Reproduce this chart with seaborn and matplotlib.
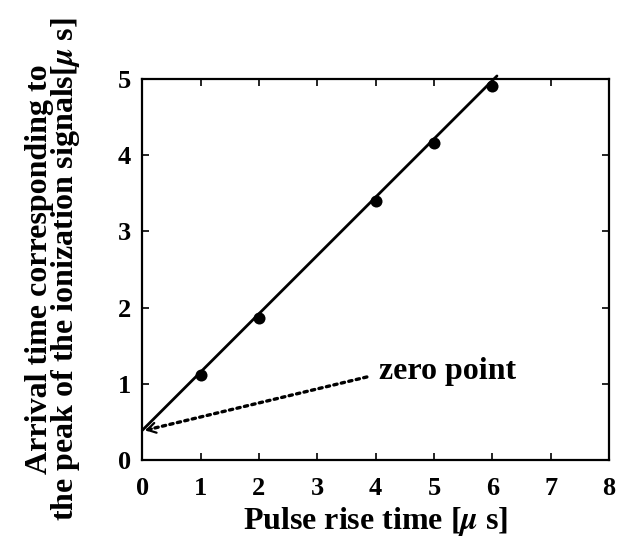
import matplotlib
matplotlib.use("Agg")
import matplotlib.pyplot as plt
import seaborn as sns
import pandas as pd

# Data
rise_time = [1, 2, 4, 5, 6]
arrival_time = [1.12, 1.87, 3.40, 4.16, 4.91]
fit_x = [0.0, 6.08]
fit_y = [0.39, 5.04]
zero_point = (0.05, 0.39)
arrow_start = (3.85, 1.09)
x_ticks = [0, 1, 2, 3, 4, 5, 6, 7, 8]
y_ticks = [0, 1, 2, 3, 4, 5]

sns.set_theme(style="ticks")
plt.rcParams['font.family'] = ['Liberation Serif', 'DejaVu Serif']
plt.rcParams['font.weight'] = 'bold'
plt.rcParams['mathtext.fontset'] = 'stix'
plt.rcParams['text.color'] = 'black'
plt.rcParams['axes.labelcolor'] = 'black'

fig = plt.figure(figsize=(6.17, 5.40), dpi=100)
ax = fig.add_axes([0.2306, 0.1481, 0.7564, 0.7056])

pts = pd.DataFrame({"x": rise_time, "y": arrival_time})
fit = pd.DataFrame({"x": fit_x, "y": fit_y})

sns.lineplot(data=fit, x="x", y="y", ax=ax, color="black", linewidth=2.0)
for l in ax.lines:
    l.set_clip_on(False)
sns.scatterplot(data=pts, x="x", y="y", ax=ax, color="black", s=75,
                edgecolor="black", linewidth=0, zorder=5)

ax.set_xlim(0, 8)
ax.set_ylim(0, 5)
ax.set_xticks(x_ticks)
ax.set_yticks(y_ticks)
ax.tick_params(direction="in", length=5, width=1.2, top=True, right=True,
               labelsize=19, colors="black")
ax.tick_params(axis="x", pad=12)
ax.tick_params(axis="y", pad=8)
for lab in ax.get_xticklabels() + ax.get_yticklabels():
    lab.set_fontweight("bold")
for s in ax.spines.values():
    s.set_visible(True)
    s.set_linewidth(1.6)
    s.set_color("black")

ax.set_xlabel(r"Pulse rise time [$\mu$ s]", fontsize=23, fontweight="bold",
              labelpad=4, color="black")
ax.set_ylabel("Arrival time corresponding to\nthe peak of the ionization signals[$\\mu$ s]",
              fontsize=23, fontweight="bold", linespacing=0.8, labelpad=26,
              color="black")

# dotted arrow to zero point
ax.annotate("", xy=zero_point, xytext=arrow_start,
            arrowprops=dict(arrowstyle="-", linestyle=(0, (1, 1.3)), lw=2.4,
                            color="black", shrinkA=0, shrinkB=2))
dx = arrow_start[0] - zero_point[0]
dy = arrow_start[1] - zero_point[1]
ax.annotate("", xy=zero_point,
            xytext=(zero_point[0] + dx * 0.03, zero_point[1] + dy * 0.03),
            arrowprops=dict(arrowstyle="->,head_length=0.5,head_width=0.3",
                            lw=1.6, color="black", shrinkA=0, shrinkB=0))
ax.text(4.05, 1.16, "zero point", fontsize=23, fontweight="bold",
        va="center", ha="left", color="black")

fig.savefig("out.png", dpi=100)
